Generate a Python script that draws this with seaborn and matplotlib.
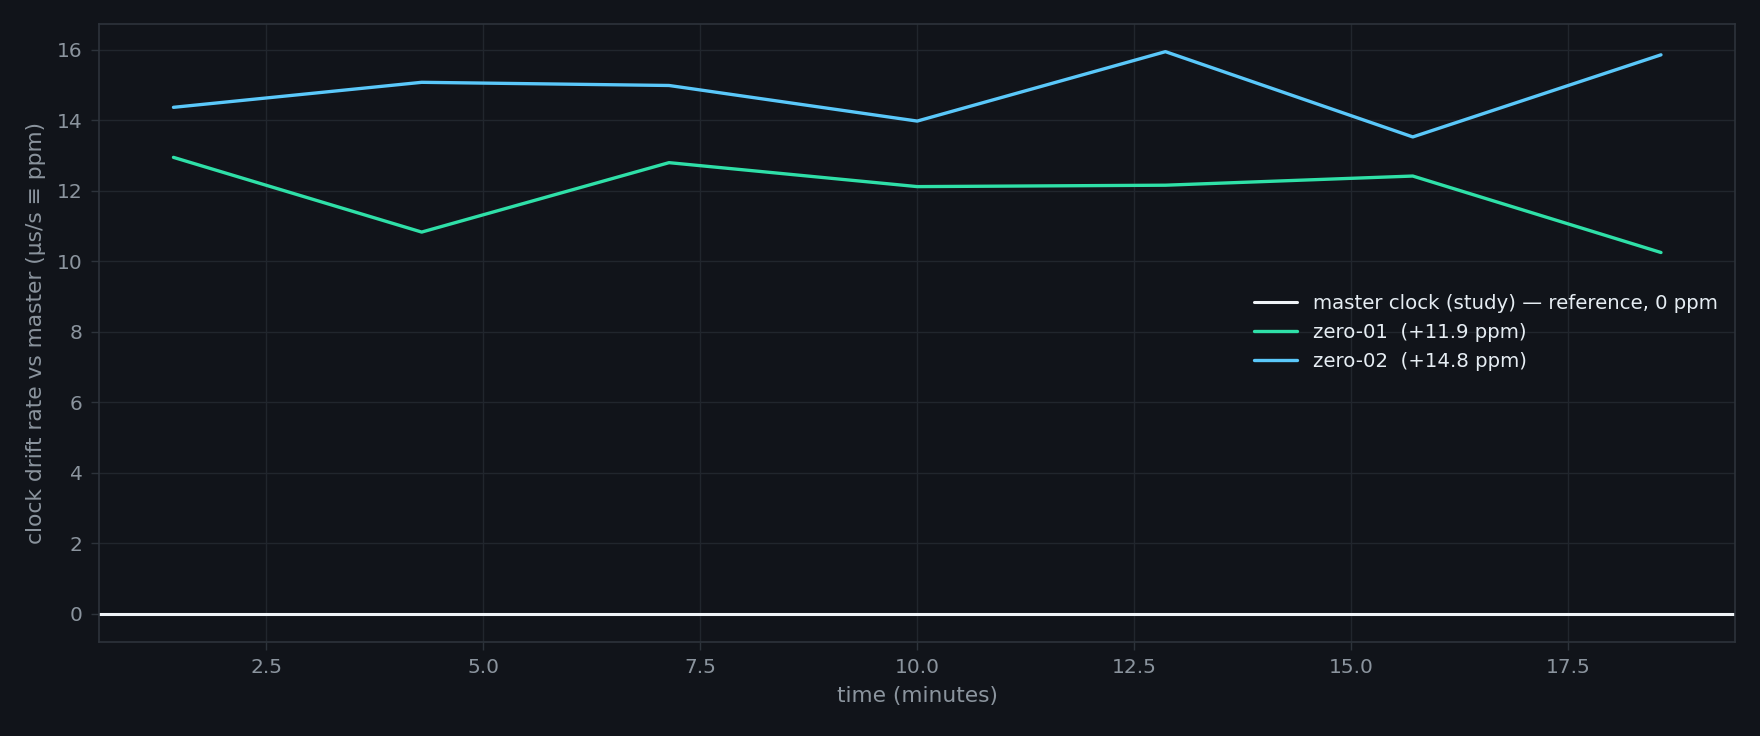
import matplotlib
matplotlib.use("Agg")
import matplotlib.pyplot as plt
import seaborn as sns
import pandas as pd

# sample times (minutes) and drift rates (ppm)
time_min = [1.43, 4.29, 7.14, 10.0, 12.86, 15.71, 18.57]
zero01 = [12.95, 10.83, 12.80, 12.12, 12.16, 12.42, 10.25]
zero02 = [14.37, 15.08, 14.99, 13.98, 15.95, 13.53, 15.86]

series_names = ["zero-01  (+11.9 ppm)", "zero-02  (+14.8 ppm)"]
master_label = "master clock (study) — reference, 0 ppm"

bg = "#11141a"
grid_c = "#21262d"
spine_c = "#2d333b"
text_c = "#8b949e"
palette = {series_names[0]: "#2fe0a8", series_names[1]: "#5ac8fa"}

sns.set_style("dark")
plt.rcParams.update({
    "figure.facecolor": bg,
    "axes.facecolor": bg,
    "axes.edgecolor": spine_c,
    "axes.labelcolor": text_c,
    "xtick.color": text_c,
    "ytick.color": text_c,
    "grid.color": grid_c,
    "text.color": "#e6edf3",
})
plt.rcParams["font.family"] = ["DejaVu Sans"]

df = pd.DataFrame({
    "time": time_min * 2,
    "drift": zero01 + zero02,
    "node": [series_names[0]] * len(time_min) + [series_names[1]] * len(time_min),
})

fig, ax = plt.subplots(figsize=(17.6, 7.36), dpi=100)
fig.subplots_adjust(left=0.0563, right=0.986, top=0.968, bottom=0.128)

master = ax.axhline(0, color="#f0f4f8", lw=2.2, label=master_label)
sns.lineplot(data=df, x="time", y="drift", hue="node", palette=palette,
             lw=2.4, ax=ax, legend=False)

ax.grid(True, color=grid_c, lw=1.0)
for s in ax.spines.values():
    s.set_color(spine_c)
    s.set_linewidth(1.2)
ax.tick_params(axis="both", which="major", length=6, width=1, color=spine_c,
               labelsize=14.5, pad=6, bottom=True, left=True)
ax.tick_params(axis="both", labelcolor=text_c)
ax.set_xlabel("time (minutes)", fontsize=15.7, color=text_c, labelpad=6)
ax.set_ylabel("clock drift rate vs master (µs/s ≡ ppm)", fontsize=15.7,
              color=text_c, labelpad=8)

lines = ax.get_lines()
handles = [master] + [l for l in lines if l is not master][:2]
for h, name in zip(handles[1:], series_names):
    h.set_label(name)
leg = ax.legend(handles=handles, loc="center right", frameon=False,
                fontsize=14.2, labelcolor="#e6edf3", handlelength=2.2)

fig.savefig("out.png", dpi=100, facecolor=bg)
